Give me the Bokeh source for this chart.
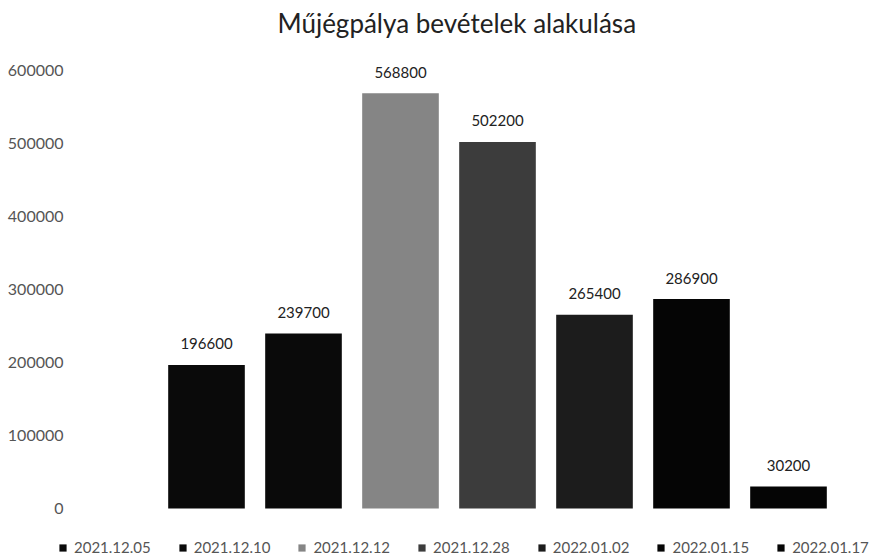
from bokeh.plotting import figure
from bokeh.models import ColumnDataSource, Legend, LegendItem, Range1d
from bokeh.core.properties import value
from bokeh.embed import file_html
from bokeh.resources import INLINE

# --- data ---
dates = ["2021.12.05", "2021.12.10", "2021.12.12", "2021.12.28", "2022.01.02", "2022.01.15", "2022.01.17"]
revenues = [196600, 239700, 568800, 502200, 265400, 286900, 30200]
colors = ["#0a0a0a", "#0a0a0a", "#858585", "#3c3c3c", "#1c1c1c", "#050505", "#050505"]
y_ticks = [0, 100000, 200000, 300000, 400000, 500000, 600000]
title_text = "Műjégpálya bevételek alakulása"

# --- layout (pixels) ---
W, H = 873, 557
TOP = 40                 # title band
SLOT = 97.0              # px per category
X0 = 157.5               # px of first category's left edge
BASE = 508.0             # px of value 0
PX_PER_UNIT = 438.0 / 600000.0

x_start = -X0 / SLOT
x_end = (W - X0) / SLOT
y_start = -(H - BASE) / PX_PER_UNIT
y_end = (BASE - TOP) / PX_PER_UNIT

p = figure(width=W, height=H, output_backend="svg", toolbar_location=None,
           x_range=Range1d(x_start, x_end), y_range=Range1d(y_start, y_end),
           min_border_left=0, min_border_right=0, min_border_top=TOP, min_border_bottom=0)
p.outline_line_color = None
p.xgrid.visible = False
p.ygrid.visible = False
p.xaxis.visible = False
p.yaxis.visible = False

p.title.text = title_text
p.title.text_font = "Lato"
p.title.text_font_size = "26px"
p.title.text_font_style = "normal"
p.title.text_color = "#222222"
p.title.align = "left"
p.title.offset = 277
p.title.standoff = 3

# y tick labels, right aligned just left of the plotting area
tick_x = (63 - X0) / SLOT
tick_src = ColumnDataSource(dict(x=[tick_x] * len(y_ticks), y=y_ticks, t=[str(t) for t in y_ticks]))
p.text(x="x", y="y", text="t", source=tick_src, text_align="right", text_baseline="middle",
       text_font=value("Lato"), text_font_size="16px", text_color="#555555")

items = []
for i, (d, v, c) in enumerate(zip(dates, revenues, colors)):
    src = ColumnDataSource(dict(x=[i + 0.5], top=[v], lbl=[str(v)]))
    r = p.vbar(x="x", top="top", width=0.79, bottom=0, source=src, fill_color=c, line_color=None)
    p.text(x="x", y="top", text="lbl", source=src, text_align="center", text_baseline="middle",
           y_offset=-21, text_font=value("Lato"), text_font_size="15px", text_color="#222222")
    items.append(LegendItem(label=d, renderers=[r]))

legend = Legend(items=items, orientation="horizontal", location=(58, 1),
                glyph_width=9, glyph_height=9, label_standoff=7, spacing=27,
                padding=0, margin=0, border_line_color=None, background_fill_alpha=0,
                label_text_font="Lato", label_text_font_size="15px", label_text_color="#555555",
                label_height=14)
p.add_layout(legend, "center")

open("out.html", "w").write(file_html(p, INLINE))
